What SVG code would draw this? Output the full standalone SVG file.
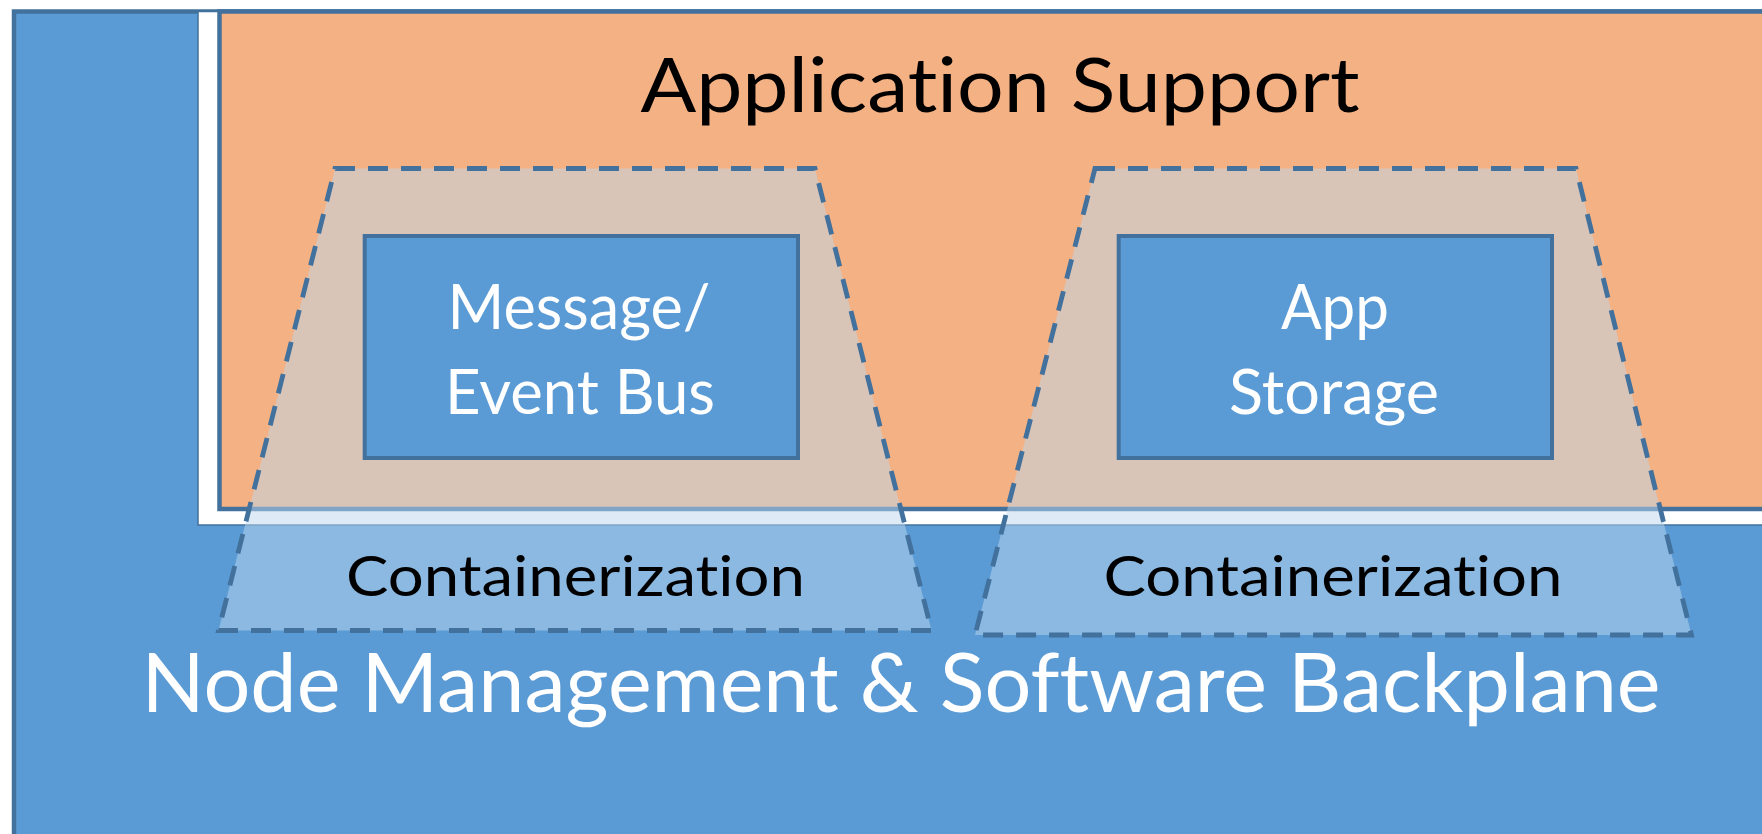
<svg xmlns="http://www.w3.org/2000/svg" width="1762" height="834" viewBox="0 0 1762 834">
  <style>
    .blue { fill: #5b9bd5; stroke: #41719c; stroke-width: 4.5; }
    .orange { fill: #f4b183; stroke: #41719c; stroke-width: 4.5; }
    .inner { fill: #5b9bd5; stroke: #41719c; stroke-width: 4; }
    .cont { fill: #bdd7ee; fill-opacity: 0.5; stroke: #41719c; stroke-width: 4.8; stroke-dasharray: 20 13; stroke-linejoin: miter; }
    text { font-family: Lato, "Open Sans", "Liberation Sans", sans-serif; text-anchor: middle; font-variant-ligatures: none; font-feature-settings: "liga" 0; }
    .w { fill: #ffffff; }
    .k { fill: #000000; }
  </style>
  <rect x="0" y="0" width="1762" height="834" fill="#ffffff"/>
  <g id="backplane">
    <rect class="blue" x="14" y="11.5" width="1800" height="900"/>
    <text class="w" x="901" y="712" font-size="81" textLength="1519" lengthAdjust="spacingAndGlyphs">Node Management &amp; Software Backplane</text>
  </g>
  <g id="application-support">
    <rect x="198" y="11.5" width="1620" height="513.5" fill="#ffffff" stroke="#41719c" stroke-width="1.5"/>
    <rect class="orange" x="219.5" y="11.5" width="1600" height="497.5"/>
    <text class="k" x="1000" y="112" font-size="75" textLength="719" lengthAdjust="spacingAndGlyphs">Application Support</text>
  </g>
  <g id="containerization-1">
    <polygon class="cont" points="335,168.5 815,168.5 931.5,630.5 218.5,630.5"/>
    <text class="k" x="575.5" y="595.5" font-size="57" textLength="459" lengthAdjust="spacingAndGlyphs">Containerization</text>
  </g>
  <g id="containerization-2">
    <polygon class="cont" points="1095,168.5 1576,168.5 1691.5,635 975,635"/>
    <text class="k" x="1333" y="595.5" font-size="57" textLength="459" lengthAdjust="spacingAndGlyphs">Containerization</text>
  </g>
  <g id="message-event-bus">
    <rect class="inner" x="364.7" y="236" width="433.3" height="222"/>
    <text class="w" x="579" y="329" font-size="62" textLength="263" lengthAdjust="spacingAndGlyphs">Message/</text>
    <text class="w" x="580" y="413.5" font-size="62" textLength="270" lengthAdjust="spacingAndGlyphs">Event Bus</text>
  </g>
  <g id="app-storage">
    <rect class="inner" x="1118.7" y="236" width="433.3" height="222"/>
    <text class="w" x="1335" y="329" font-size="62" textLength="108" lengthAdjust="spacingAndGlyphs">App</text>
    <text class="w" x="1334" y="413.5" font-size="62" textLength="210" lengthAdjust="spacingAndGlyphs">Storage</text>
  </g>
  <g id="connectors"/>
</svg>
